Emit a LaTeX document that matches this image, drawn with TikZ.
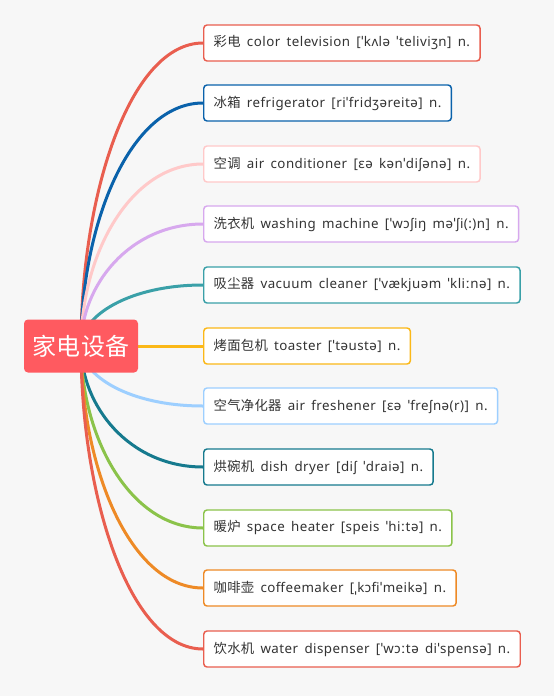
\documentclass[tikz,border=0pt]{standalone}
\usepackage{fontspec}
\setmainfont{Noto Sans}[WordSpace=1.6,LetterSpace=3.5]
\newfontfamily\cjk{Noto Sans CJK SC}[LetterSpace=2]
\usetikzlibrary{positioning,calc,backgrounds}
\definecolor{fondo}{RGB}{247,247,247}
\definecolor{texto}{RGB}{51,51,51}
\definecolor{raizrojo}{RGB}{255,90,96}
\definecolor{rojo}{RGB}{233,94,79}
\definecolor{azul}{RGB}{10,98,171}
\definecolor{rosa}{RGB}{255,201,201}
\definecolor{lila}{RGB}{215,168,238}
\definecolor{verdeazul}{RGB}{58,160,168}
\definecolor{amarillo}{RGB}{251,184,24}
\definecolor{celeste}{RGB}{157,207,255}
\definecolor{petroleo}{RGB}{22,122,142}
\definecolor{verde}{RGB}{139,195,74}
\definecolor{naranja}{RGB}{238,138,38}
\tikzset{
  raiz/.style={rectangle,rounded corners=3pt,fill=raizrojo,text=white,
    minimum width=85.5pt,minimum height=39.75pt,inner sep=0pt,
    font=\cjk\fontsize{18}{20}\selectfont},
  caja/.style={rectangle,rounded corners=2.5pt,draw=#1,line width=1.1pt,fill=white,
    anchor=west,minimum height=27pt,inner xsep=7.5pt,inner ysep=0pt,
    font=\fontsize{10}{12}\selectfont,text=texto},
  rama/.style={draw=#1,line width=2.25pt,
    to path={.. controls ($(\tikztostart)!0.5!(\tikztostart|-\tikztotarget)$)
      and ($(\tikztotarget)!0.6!(\tikztostart|-\tikztotarget)$) .. (\tikztotarget)}},
}
\begin{document}
\begin{tikzpicture}[x=0.75pt,y=-0.75pt]
  \useasboundingbox (0,0) rectangle (554,696);
  \node[raiz] (raiz) at (81,346) {家电设备};
  \node[caja=rojo] (b1) at (203,43) {{\cjk 彩电} color television [ˈkʌlə ˈteliviʒn] n.};
  \node[caja=azul] (b2) at (203,103) {{\cjk 冰箱} refrigerator [riˈfridʒəreitə] n.};
  \node[caja=rosa] (b3) at (203,164) {{\cjk 空调} air conditioner [ɛə kənˈdiʃənə] n.};
  \node[caja=lila] (b4) at (203,224) {{\cjk 洗衣机} washing machine [ˈwɔʃiŋ məˈʃi(:)n] n.};
  \node[caja=verdeazul] (b5) at (203,285) {{\cjk 吸尘器} vacuum cleaner [ˈvækjuəm ˈkliːnə] n.};
  \node[caja=amarillo] (b6) at (203,346) {{\cjk 烤面包机} toaster [ˈtəustə] n.};
  \node[caja=celeste] (b7) at (203,406) {{\cjk 空气净化器} air freshener [ɛə ˈfreʃnə(r)] n.};
  \node[caja=petroleo] (b8) at (203,467) {{\cjk 烘碗机} dish dryer [diʃ ˈdraiə] n.};
  \node[caja=verde] (b9) at (203,528) {{\cjk 暖炉} space heater [speis ˈhiːtə] n.};
  \node[caja=naranja] (b10) at (203,588) {{\cjk 咖啡壶} coffeemaker [ˌkɔfiˈmeikə] n.};
  \node[caja=rojo] (b11) at (203,649) {{\cjk 饮水机} water dispenser [ˈwɔːtə diˈspensə] n.};
  \begin{scope}[on background layer]
    \fill[fondo] (0,0) rectangle (554,696);
    \draw[rama=rojo] (raiz.center) to (b1.west);
    \draw[rama=azul] (raiz.center) to (b2.west);
    \draw[rama=rosa] (raiz.center) to (b3.west);
    \draw[rama=lila] (raiz.center) to (b4.west);
    \draw[rama=verdeazul] (raiz.center) to (b5.west);
    \draw[rama=amarillo] (raiz.center) to (b6.west);
    \draw[rama=celeste] (raiz.center) to (b7.west);
    \draw[rama=petroleo] (raiz.center) to (b8.west);
    \draw[rama=verde] (raiz.center) to (b9.west);
    \draw[rama=naranja] (raiz.center) to (b10.west);
    \draw[rama=rojo] (raiz.center) to (b11.west);
  \end{scope}
\end{tikzpicture}
\end{document}
